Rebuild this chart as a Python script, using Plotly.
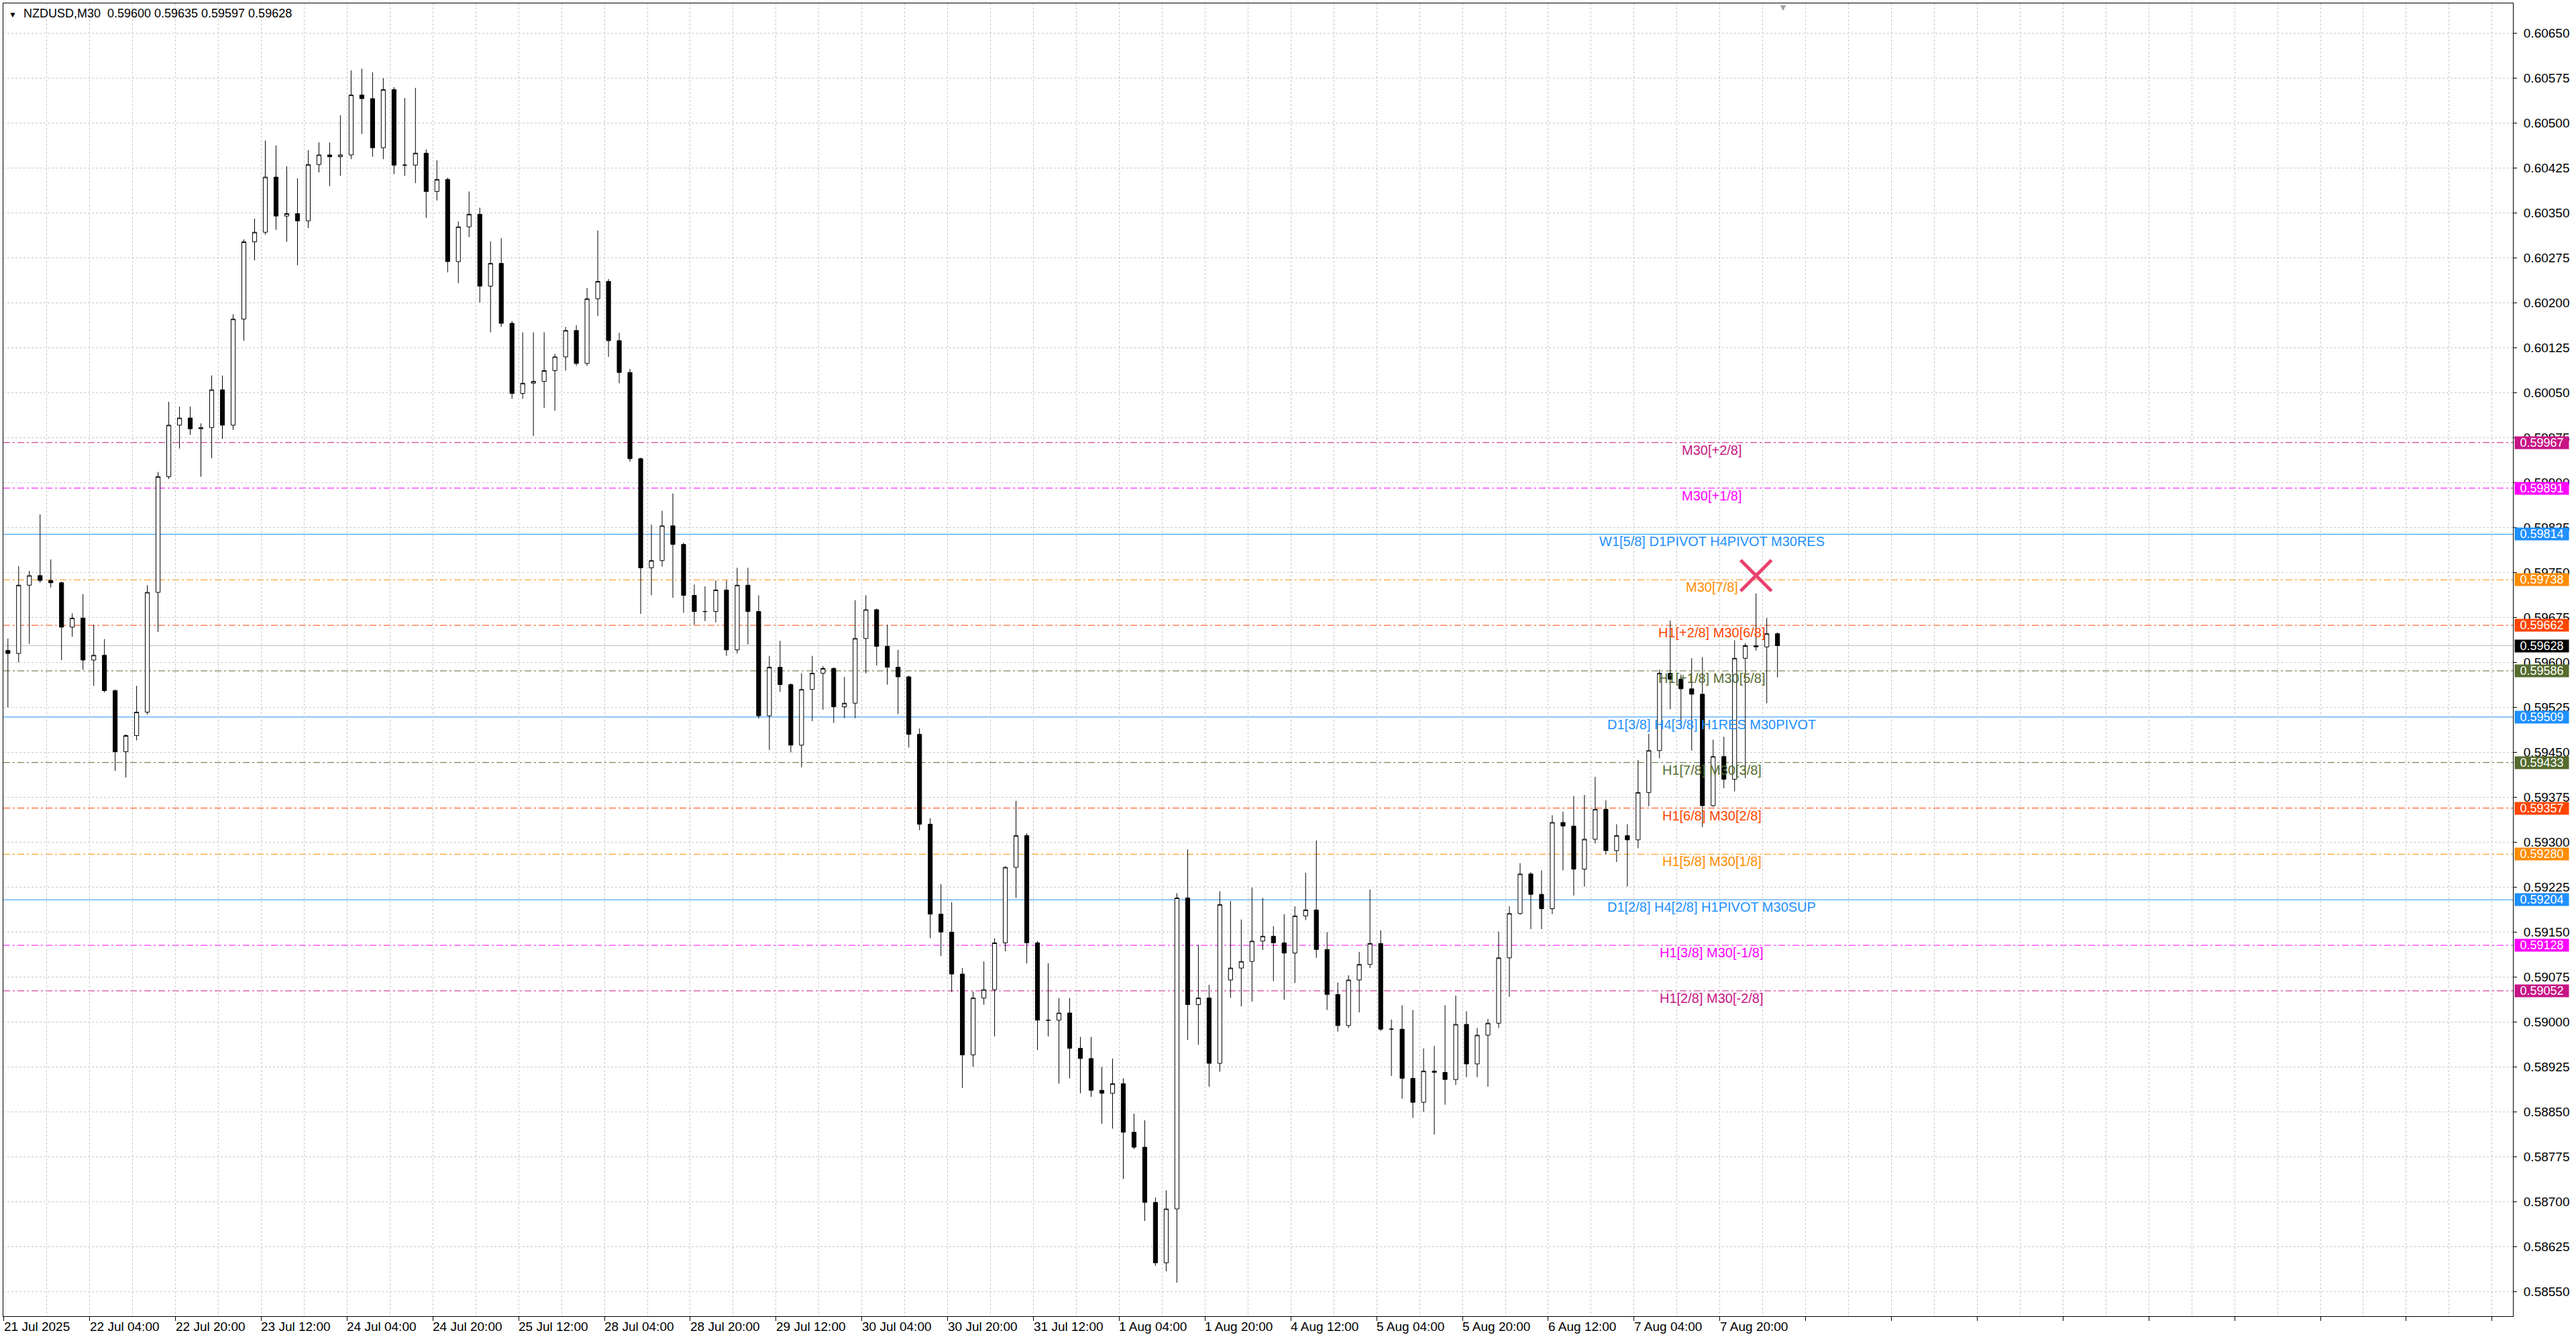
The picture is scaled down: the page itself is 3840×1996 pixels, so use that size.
import plotly.graph_objects as go

# ---- price data: 2-hour candles (4 x M30 bars) ----
opens = [
    0.59620, 0.59615, 0.59729, 0.59745, 0.59737, 0.59733, 0.59659, 0.59674, 0.59604, 0.59612,
    0.59553, 0.59451, 0.59478, 0.59517, 0.59717, 0.59910, 0.59996, 0.60008, 0.59990, 0.59992,
    0.60055, 0.59996, 0.60173, 0.60302, 0.60318, 0.60410, 0.60345, 0.60349, 0.60337, 0.60431,
    0.60447, 0.60444, 0.60447, 0.60547, 0.60541, 0.60459, 0.60556, 0.60430, 0.60430, 0.60450,
    0.60386, 0.60406, 0.60269, 0.60327, 0.60348, 0.60228, 0.60266, 0.60166, 0.60049, 0.60066,
    0.60069, 0.60087, 0.60110, 0.60154, 0.60099, 0.60207, 0.60236, 0.60137, 0.60084, 0.59940,
    0.59758, 0.59770, 0.59828, 0.59797, 0.59712, 0.59685, 0.59685, 0.59721, 0.59621, 0.59729,
    0.59685, 0.59511, 0.59592, 0.59563, 0.59462, 0.59555, 0.59582, 0.59590, 0.59526, 0.59532,
    0.59640, 0.59688, 0.59627, 0.59592, 0.59576, 0.59480, 0.59330, 0.59180, 0.59150, 0.59080,
    0.58945, 0.59040, 0.59054, 0.59132, 0.59258, 0.59311, 0.59132, 0.59003, 0.59003, 0.59015,
    0.58956, 0.58939, 0.58886, 0.58881, 0.58897, 0.58816, 0.58791, 0.58699, 0.58598, 0.58688,
    0.59207, 0.59029, 0.59040, 0.58931, 0.59070, 0.59090, 0.59101, 0.59135, 0.59143, 0.59132,
    0.59115, 0.59177, 0.59187, 0.59121, 0.59046, 0.58994, 0.59070, 0.59096, 0.59131, 0.58988,
    0.58988, 0.58906, 0.58866, 0.58918, 0.58916, 0.58904, 0.58996, 0.58930, 0.58978, 0.58998,
    0.59107, 0.59181, 0.59247, 0.59213, 0.59189, 0.59333, 0.59327, 0.59255, 0.59305, 0.59355,
    0.59286, 0.59311, 0.59304, 0.59383, 0.59453, 0.59582, 0.59572, 0.59556, 0.59547, 0.59361,
    0.59443, 0.59405, 0.59607, 0.59628, 0.59626, 0.59648,
]
highs = [
    0.59640, 0.59761, 0.59753, 0.59847, 0.59772, 0.59735, 0.59682, 0.59714, 0.59663, 0.59639,
    0.59555, 0.59480, 0.59561, 0.59729, 0.59918, 0.60035, 0.60027, 0.60027, 0.59999, 0.60079,
    0.60079, 0.60181, 0.60306, 0.60341, 0.60471, 0.60463, 0.60428, 0.60408, 0.60455, 0.60468,
    0.60468, 0.60513, 0.60588, 0.60591, 0.60585, 0.60575, 0.60560, 0.60542, 0.60559, 0.60456,
    0.60438, 0.60409, 0.60336, 0.60386, 0.60359, 0.60303, 0.60308, 0.60170, 0.60151, 0.60151,
    0.60151, 0.60115, 0.60160, 0.60163, 0.60225, 0.60321, 0.60240, 0.60150, 0.60090, 0.59942,
    0.59830, 0.59853, 0.59882, 0.59800, 0.59730, 0.59727, 0.59737, 0.59737, 0.59758, 0.59758,
    0.59712, 0.59611, 0.59636, 0.59565, 0.59582, 0.59611, 0.59594, 0.59592, 0.59576, 0.59704,
    0.59712, 0.59690, 0.59663, 0.59621, 0.59578, 0.59490, 0.59340, 0.59230, 0.59200, 0.59090,
    0.59051, 0.59101, 0.59140, 0.59260, 0.59369, 0.59315, 0.59135, 0.59098, 0.59040, 0.59040,
    0.58975, 0.58975, 0.58925, 0.58939, 0.58906, 0.58847, 0.58836, 0.58707, 0.58719, 0.59215,
    0.59288, 0.59129, 0.59062, 0.59218, 0.59202, 0.59171, 0.59224, 0.59207, 0.59160, 0.59180,
    0.59193, 0.59249, 0.59303, 0.59150, 0.59066, 0.59078, 0.59117, 0.59221, 0.59153, 0.59004,
    0.59028, 0.59020, 0.58956, 0.58960, 0.59028, 0.59044, 0.59018, 0.58990, 0.59005, 0.59151,
    0.59193, 0.59265, 0.59250, 0.59253, 0.59345, 0.59351, 0.59377, 0.59379, 0.59409, 0.59370,
    0.59330, 0.59330, 0.59437, 0.59481, 0.59588, 0.59670, 0.59580, 0.59607, 0.59609, 0.59471,
    0.59476, 0.59637, 0.59632, 0.59715, 0.59674, 0.59650,
]
lows = [
    0.59525, 0.59600, 0.59631, 0.59733, 0.59725, 0.59604, 0.59643, 0.59588, 0.59561, 0.59550,
    0.59419, 0.59408, 0.59470, 0.59513, 0.59651, 0.59906, 0.59957, 0.59980, 0.59910, 0.59941,
    0.59973, 0.59988, 0.60137, 0.60271, 0.60314, 0.60322, 0.60302, 0.60263, 0.60325, 0.60418,
    0.60395, 0.60412, 0.60440, 0.60482, 0.60444, 0.60440, 0.60415, 0.60412, 0.60400, 0.60342,
    0.60371, 0.60251, 0.60233, 0.60310, 0.60201, 0.60151, 0.60160, 0.60040, 0.60040, 0.59978,
    0.60025, 0.60020, 0.60087, 0.60095, 0.60095, 0.60178, 0.60110, 0.60066, 0.59935, 0.59681,
    0.59712, 0.59760, 0.59708, 0.59683, 0.59663, 0.59669, 0.59667, 0.59611, 0.59615, 0.59630,
    0.59506, 0.59454, 0.59551, 0.59450, 0.59425, 0.59502, 0.59521, 0.59499, 0.59507, 0.59507,
    0.59582, 0.59595, 0.59563, 0.59514, 0.59458, 0.59320, 0.59140, 0.59110, 0.59050, 0.58890,
    0.58925, 0.59029, 0.58976, 0.59118, 0.59207, 0.59098, 0.58953, 0.58976, 0.58897, 0.58906,
    0.58881, 0.58875, 0.58830, 0.58822, 0.58738, 0.58788, 0.58668, 0.58593, 0.58584, 0.58565,
    0.58970, 0.58962, 0.58892, 0.58917, 0.59040, 0.59026, 0.59034, 0.59120, 0.59068, 0.59037,
    0.59065, 0.59170, 0.59107, 0.59020, 0.58984, 0.58990, 0.59016, 0.59090, 0.58985, 0.58910,
    0.58872, 0.58840, 0.58850, 0.58812, 0.58862, 0.58895, 0.58908, 0.58908, 0.58892, 0.58990,
    0.59042, 0.59179, 0.59155, 0.59155, 0.59180, 0.59253, 0.59211, 0.59226, 0.59298, 0.59280,
    0.59267, 0.59226, 0.59290, 0.59360, 0.59440, 0.59522, 0.59493, 0.59453, 0.59325, 0.59359,
    0.59390, 0.59385, 0.59407, 0.59620, 0.59532, 0.59575,
]
closes = [
    0.59615, 0.59729, 0.59745, 0.59737, 0.59733, 0.59659, 0.59674, 0.59604, 0.59612, 0.59553,
    0.59451, 0.59478, 0.59517, 0.59717, 0.59910, 0.59996, 0.60008, 0.59990, 0.59992, 0.60055,
    0.59996, 0.60173, 0.60302, 0.60318, 0.60410, 0.60345, 0.60349, 0.60337, 0.60431, 0.60447,
    0.60444, 0.60447, 0.60547, 0.60541, 0.60459, 0.60556, 0.60430, 0.60430, 0.60450, 0.60386,
    0.60406, 0.60269, 0.60327, 0.60348, 0.60228, 0.60266, 0.60166, 0.60049, 0.60066, 0.60069,
    0.60087, 0.60110, 0.60154, 0.60099, 0.60207, 0.60236, 0.60137, 0.60084, 0.59940, 0.59758,
    0.59770, 0.59828, 0.59797, 0.59712, 0.59685, 0.59685, 0.59721, 0.59621, 0.59729, 0.59685,
    0.59511, 0.59592, 0.59563, 0.59462, 0.59555, 0.59582, 0.59590, 0.59526, 0.59532, 0.59640,
    0.59688, 0.59627, 0.59592, 0.59576, 0.59480, 0.59330, 0.59180, 0.59150, 0.59080, 0.58945,
    0.59040, 0.59054, 0.59132, 0.59258, 0.59311, 0.59132, 0.59003, 0.59003, 0.59015, 0.58956,
    0.58939, 0.58886, 0.58881, 0.58897, 0.58816, 0.58791, 0.58699, 0.58598, 0.58688, 0.59207,
    0.59029, 0.59040, 0.58931, 0.59196, 0.59090, 0.59101, 0.59135, 0.59143, 0.59132, 0.59115,
    0.59177, 0.59187, 0.59121, 0.59046, 0.58994, 0.59070, 0.59096, 0.59131, 0.58988, 0.58988,
    0.58906, 0.58866, 0.58918, 0.58916, 0.58904, 0.58996, 0.58930, 0.58978, 0.58998, 0.59107,
    0.59181, 0.59247, 0.59213, 0.59189, 0.59333, 0.59327, 0.59255, 0.59305, 0.59355, 0.59286,
    0.59311, 0.59304, 0.59383, 0.59453, 0.59582, 0.59572, 0.59556, 0.59547, 0.59361, 0.59443,
    0.59405, 0.59607, 0.59628, 0.59626, 0.59648, 0.59628,
]

# last M30 bar shown in the header (O H L C)
last_bar = [0.59600, 0.59635, 0.59597, 0.59628]

time_labels = [
    "21 Jul 2025", "22 Jul 04:00", "22 Jul 20:00", "23 Jul 12:00", "24 Jul 04:00",
    "24 Jul 20:00", "25 Jul 12:00", "28 Jul 04:00", "28 Jul 20:00", "29 Jul 12:00",
    "30 Jul 04:00", "30 Jul 20:00", "31 Jul 12:00", "1 Aug 04:00", "1 Aug 20:00",
    "4 Aug 12:00", "5 Aug 04:00", "5 Aug 20:00", "6 Aug 12:00", "7 Aug 04:00",
    "7 Aug 20:00",
]

# Murrey / pivot levels
level_prices = [0.59967, 0.59891, 0.59814, 0.59738, 0.59662, 0.59586, 0.59509,
                0.59433, 0.59357, 0.59280, 0.59204, 0.59128, 0.59052]
level_names = ["M30[+2/8]", "M30[+1/8]", "W1[5/8] D1PIVOT H4PIVOT M30RES",
               "M30[7/8]", "H1[+2/8] M30[6/8]", "H1[+1/8] M30[5/8]",
               "D1[3/8] H4[3/8] H1RES M30PIVOT", "H1[7/8] M30[3/8]",
               "H1[6/8] M30[2/8]", "H1[5/8] M30[1/8]",
               "D1[2/8] H4[2/8] H1PIVOT M30SUP", "H1[3/8] M30[-1/8]",
               "H1[2/8] M30[-2/8]"]
level_colors = ["#C71585", "#FF00FF", "#1E90FF", "#FF8C00", "#FF4500", "#556B2F",
                "#1E90FF", "#556B2F", "#FF4500", "#FF8C00", "#1E90FF", "#FF00FF",
                "#C71585"]

# signal cross
signal_bar = [653.5]
signal_price = [0.59745]

BARS_PER_CANDLE = 4
BARS_PER_LABEL = 32
LABEL_BAR = 637          # where the level captions sit
SHIFT_BAR = 663.5        # chart shift marker
FONT = "Liberation Sans"
GRID = "#C8C8C8"

candle_x = [i * BARS_PER_CANDLE + 1.5 for i in range(len(closes))]

fig = go.Figure()

fig.add_trace(go.Candlestick(
    x=candle_x, open=opens, high=highs, low=lows, close=closes,
    increasing=dict(line=dict(color="black", width=1), fillcolor="white"),
    decreasing=dict(line=dict(color="black", width=1), fillcolor="black"),
    whiskerwidth=0, showlegend=False, hoverinfo="skip",
))

# signal cross
fig.add_trace(go.Scatter(
    x=signal_bar, y=signal_price, mode="markers", showlegend=False, hoverinfo="skip",
    marker=dict(symbol="x-thin", size=46, line=dict(width=5, color="#E8416F")),
))

# level lines + captions + price boxes on the right
for price, name, color in zip(level_prices, level_names, level_colors):
    dash = "solid" if color == "#1E90FF" else "10px,4px,3px,4px"
    fig.add_shape(type="line", xref="paper", x0=0, x1=1, yref="y", y0=price, y1=price,
                  line=dict(color=color, width=1, dash=dash), layer="below")
    fig.add_annotation(x=LABEL_BAR, y=price, text=name, showarrow=False,
                       xanchor="center", yanchor="top", yshift=2,
                       font=dict(family=FONT, size=20, color=color))
    fig.add_annotation(xref="paper", x=1, y=price, text=f"{price:.5f}", showarrow=False,
                       xanchor="left", yanchor="middle", xshift=2,
                       width=80, height=18, borderpad=0, bgcolor=color,
                       font=dict(family=FONT, size=18, color="white"))

# current price line and box
last_price = closes[-1]
fig.add_shape(type="line", xref="paper", x0=0, x1=1, yref="y", y0=last_price, y1=last_price,
              line=dict(color="#C0C0C0", width=1), layer="below")
fig.add_annotation(xref="paper", x=1, y=last_price, text=f"{last_price:.5f}", showarrow=False,
                   xanchor="left", yanchor="middle", xshift=2,
                   width=80, height=18, borderpad=0, bgcolor="black",
                   font=dict(family=FONT, size=18, color="white"))

# time labels, left-aligned on their tick like MetaTrader
for k, lab in enumerate(time_labels):
    fig.add_annotation(x=k * BARS_PER_LABEL, yref="paper", y=0, text=lab, showarrow=False,
                       xanchor="left", yanchor="top", yshift=-3, xshift=-2,
                       font=dict(family=FONT, size=19, color="black"))

# header
fig.add_annotation(
    xref="paper", yref="paper", x=0, y=1, xanchor="left", yanchor="top", xshift=6, yshift=-3,
    showarrow=False, font=dict(family=FONT, size=18, color="black"),
    text="<span style='font-size:12px'>▼</span>\u00a0 NZDUSD,M30\u00a0\u00a0"
         + " ".join(f"{v:.5f}" for v in last_bar),
)
# shift marker at the top edge
fig.add_annotation(x=SHIFT_BAR, yref="paper", y=1, text="▼", showarrow=False,
                   yanchor="top", yshift=4, font=dict(family=FONT, size=14, color="#A0A0A0"))

fig.update_layout(
    width=3840, height=1996,
    margin=dict(l=5, r=94, t=5, b=34),
    paper_bgcolor="white", plot_bgcolor="white",
    font=dict(family=FONT, size=19, color="black"),
    showlegend=False,
    boxgap=0.45,
    xaxis=dict(
        range=[-0.2, 935.8], rangeslider=dict(visible=False),
        tickmode="linear", tick0=0, dtick=BARS_PER_LABEL,
        ticks="outside", ticklen=6, tickcolor="black", showticklabels=False,
        showgrid=True, gridcolor=GRID, griddash="3px,3px", gridwidth=1,
        minor=dict(tick0=0, dtick=BARS_PER_LABEL // 2, showgrid=True,
                   gridcolor=GRID, griddash="3px,3px", ticks=""),
        showline=True, linecolor="black", linewidth=1, mirror=True, zeroline=False,
    ),
    yaxis=dict(
        range=[0.58509, 0.60700], side="right",
        tickmode="linear", tick0=0.58550, dtick=0.00075, tickformat=".5f",
        ticks="outside", ticklen=5, tickcolor="black", ticklabelstandoff=6,
        tickfont=dict(family=FONT, size=19, color="black"),
        showgrid=True, gridcolor=GRID, griddash="3px,3px", gridwidth=1,
        showline=True, linecolor="black", linewidth=1, mirror=True, zeroline=False,
    ),
)

fig.write_html("out.html", config={"displayModeBar": False},
               post_script="document.body.style.margin='0';document.body.style.overflow='hidden';")
